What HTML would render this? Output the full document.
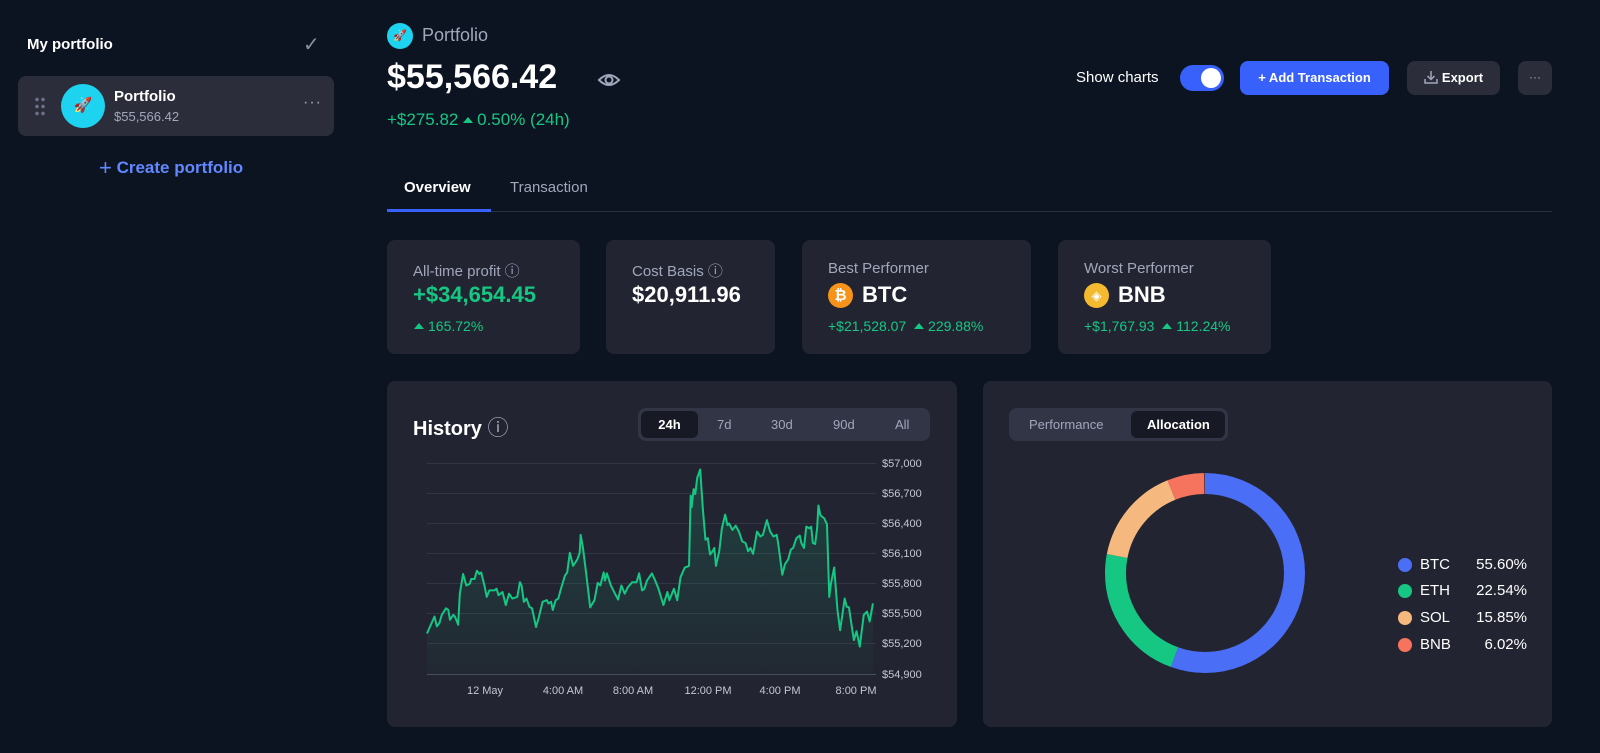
<!DOCTYPE html>
<html><head><meta charset="utf-8"><style>
*{margin:0;padding:0;box-sizing:border-box}
body{width:1600px;height:753px;background:#0d1421;font-family:"Liberation Sans",sans-serif;color:#fff;position:relative;overflow:hidden}
.a{position:absolute;white-space:nowrap}
.card{position:absolute;background:#222531;border-radius:8px}
.g{color:#16c784}.m{color:#a1a7bb}
.tri{display:inline-block;width:0;height:0;border-left:5px solid transparent;border-right:5px solid transparent;border-bottom:6px solid #16c784;margin-right:4px;vertical-align:2px}
.lg{position:absolute;left:1398px;width:129px;height:20px;font-size:15px;line-height:20px}
.lg i{position:absolute;left:0;top:3px;width:14px;height:14px;border-radius:50%}
.lg b{position:absolute;left:22px;font-weight:normal}
.lg span{position:absolute;right:0}
</style></head><body>
<div class="a" style="left:27px;top:36px;font-size:15px;font-weight:bold">My portfolio</div>
<div class="a" style="left:303px;top:32px;font-size:20px;color:#8a90a2">✓</div>
<div class="card" style="left:18px;top:76px;width:316px;height:60px;background:#2b2d3b"></div>
<div class="a" style="left:34px;top:96px;width:12px;height:20px;background:radial-gradient(circle,#6c7186 1.6px,transparent 2px) 0 0/6px 7px"></div>
<div class="a" style="left:61px;top:84px;width:44px;height:44px;border-radius:50%;background:#1ed3ef;text-align:center;line-height:44px;font-size:15px">🚀</div>
<div class="a" style="left:114px;top:88px;font-size:15px;font-weight:bold">Portfolio</div>
<div class="a m" style="left:114px;top:109px;font-size:13px">$55,566.42</div>
<div class="a m" style="left:303px;top:94px;font-size:16px;letter-spacing:1px">···</div>
<div class="a" style="left:99px;top:155px;font-size:17px;font-weight:bold;color:#6188ff"><span style="font-size:22px;font-weight:normal;vertical-align:-2px">+</span> Create portfolio</div>

<div class="a" style="left:387px;top:23px;width:26px;height:26px;border-radius:50%;background:#1ed3ef;text-align:center;line-height:26px;font-size:11px">🚀</div>
<div class="a m" style="left:422px;top:25px;font-size:18px">Portfolio</div>
<div class="a" style="left:387px;top:58px;font-size:34px;font-weight:bold">$55,566.42</div>
<svg class="a" style="left:597px;top:70px" width="24" height="20"><path d="M2 10 Q12 0 22 10 Q12 20 2 10Z" fill="none" stroke="#a1a7bb" stroke-width="2"/><circle cx="12" cy="10" r="3.5" fill="none" stroke="#a1a7bb" stroke-width="2"/></svg>
<div class="a g" style="left:387px;top:110px;font-size:17px">+$275.82 <span class="tri"></span>0.50% (24h)</div>

<div class="a" style="left:1076px;top:69px;font-size:15px">Show charts</div>
<div class="a" style="left:1180px;top:65px;width:44px;height:26px;border-radius:13px;background:#3861fb"><div style="position:absolute;right:3px;top:3px;width:20px;height:20px;border-radius:50%;background:#fff"></div></div>
<div class="a" style="left:1240px;top:61px;width:149px;height:34px;border-radius:8px;background:#3861fb;font-size:13px;font-weight:bold;text-align:center;line-height:34px">+ Add Transaction</div>
<div class="a" style="left:1407px;top:61px;width:93px;height:34px;border-radius:8px;background:#2b2d3b;font-size:13px;font-weight:bold;text-align:center;line-height:34px"><svg width="14" height="14" style="vertical-align:-2px;margin-right:4px"><path d="M7 1v8M3.5 6L7 9.5 10.5 6M1 9v4h12V9" fill="none" stroke="#a1a7bb" stroke-width="1.5"/></svg>Export</div>
<div class="a m" style="left:1518px;top:61px;width:34px;height:34px;border-radius:8px;background:#2b2d3b;font-size:12px;text-align:center;line-height:32px">···</div>

<div class="a" style="left:404px;top:179px;font-size:15px;font-weight:bold">Overview</div>
<div class="a m" style="left:510px;top:179px;font-size:15px">Transaction</div>
<div class="a" style="left:387px;top:211px;width:1165px;height:1px;background:#2a2f3e"></div>
<div class="a" style="left:387px;top:209px;width:104px;height:3px;background:#3861fb"></div>

<div class="card" style="left:387px;top:240px;width:193px;height:114px"></div>
<div class="a m" style="left:413px;top:260px;font-size:15px">All-time profit ⓘ</div>
<div class="a g" style="left:413px;top:282px;font-size:22px;font-weight:bold">+$34,654.45</div>
<div class="a g" style="left:414px;top:318px;font-size:14px"><span class="tri"></span>165.72%</div>
<div class="card" style="left:606px;top:240px;width:169px;height:114px"></div>
<div class="a m" style="left:632px;top:260px;font-size:15px">Cost Basis ⓘ</div>
<div class="a" style="left:632px;top:282px;font-size:22px;font-weight:bold">$20,911.96</div>
<div class="card" style="left:802px;top:240px;width:229px;height:114px"></div>
<div class="a m" style="left:828px;top:260px;font-size:15px">Best Performer</div>
<div class="a" style="left:828px;top:283px;width:25px;height:25px;border-radius:50%;background:#f7931a;font-size:15px;font-weight:bold;text-align:center;line-height:25px">₿</div>
<div class="a" style="left:862px;top:282px;font-size:22px;font-weight:bold">BTC</div>
<div class="a g" style="left:828px;top:318px;font-size:14px">+$21,528.07 &nbsp;<span class="tri"></span>229.88%</div>
<div class="card" style="left:1058px;top:240px;width:213px;height:114px"></div>
<div class="a m" style="left:1084px;top:260px;font-size:15px">Worst Performer</div>
<div class="a" style="left:1084px;top:283px;width:25px;height:25px;border-radius:50%;background:#f3ba2f;font-size:13px;text-align:center;line-height:25px;color:#fff">◈</div>
<div class="a" style="left:1118px;top:282px;font-size:22px;font-weight:bold">BNB</div>
<div class="a g" style="left:1084px;top:318px;font-size:14px">+$1,767.93 &nbsp;<span class="tri"></span>112.24%</div>

<div class="card" style="left:387px;top:381px;width:570px;height:346px"></div>
<div class="a" style="left:413px;top:412px;font-size:20px;font-weight:bold">History <span class="m" style="font-weight:normal;font-size:21px">ⓘ</span></div>
<div class="a" style="left:638px;top:408px;width:292px;height:33px;border-radius:8px;background:#323546"></div>
<div class="a" style="left:641px;top:411px;width:57px;height:27px;border-radius:6px;background:#171924"></div>
<div class="a" style="left:641px;top:417px;width:57px;text-align:center;font-size:13px;font-weight:bold">24h</div>
<div class="a m" style="left:717px;top:417px;font-size:13px">7d</div>
<div class="a m" style="left:771px;top:417px;font-size:13px">30d</div>
<div class="a m" style="left:833px;top:417px;font-size:13px">90d</div>
<div class="a m" style="left:895px;top:417px;font-size:13px">All</div>

<svg class="a" style="left:0;top:0" width="1600" height="753">
<defs><linearGradient id="fg" x1="0" y1="0" x2="0" y2="1"><stop offset="0" stop-color="#16c784" stop-opacity="0.18"/><stop offset="1" stop-color="#16c784" stop-opacity="0.02"/></linearGradient></defs>
<g stroke="#323546" stroke-width="1">
<line x1="427" x2="876" y1="463.5" y2="463.5"/><line x1="427" x2="876" y1="493.5" y2="493.5"/><line x1="427" x2="876" y1="523.5" y2="523.5"/><line x1="427" x2="876" y1="553.5" y2="553.5"/><line x1="427" x2="876" y1="583.5" y2="583.5"/><line x1="427" x2="876" y1="613.5" y2="613.5"/><line x1="427" x2="876" y1="643.5" y2="643.5"/></g>
<line x1="427" x2="876" y1="674.5" y2="674.5" stroke="#4a4f60"/>
<g font-size="11" fill="#c3c7d3" font-family="Liberation Sans,sans-serif">
<text x="882" y="467">$57,000</text><text x="882" y="497">$56,700</text><text x="882" y="527">$56,400</text><text x="882" y="557">$56,100</text><text x="882" y="587">$55,800</text><text x="882" y="617">$55,500</text><text x="882" y="647">$55,200</text><text x="882" y="678">$54,900</text>
<text x="485" y="694" text-anchor="middle">12 May</text><text x="563" y="694" text-anchor="middle">4:00 AM</text><text x="633" y="694" text-anchor="middle">8:00 AM</text><text x="708" y="694" text-anchor="middle">12:00 PM</text><text x="780" y="694" text-anchor="middle">4:00 PM</text><text x="856" y="694" text-anchor="middle">8:00 PM</text></g>
<g transform="translate(400.7,440.1) scale(0.3284,0.3267)">
<polygon fill="url(#fg)" points="80,716 80,592 103,540 110,570 118,560 125,535 138,515 145,520 150,550 160,535 165,540 175,565 180,470 190,410 200,445 210,440 215,425 225,425 232,400 240,410 245,405 255,445 262,480 270,460 285,460 292,455 298,475 310,465 320,505 330,470 340,485 355,480 363,435 368,445 375,495 383,485 392,510 400,515 412,572 420,545 432,495 445,490 450,500 458,495 463,520 472,490 480,485 488,455 500,415 507,405 515,345 525,385 538,365 545,345 548,290 555,330 565,410 577,512 590,490 600,437 608,445 618,405 622,430 628,408 640,445 650,465 662,488 672,445 682,470 692,450 705,435 718,435 726,408 735,460 742,455 750,430 765,408 775,430 785,455 800,505 812,465 818,490 832,455 842,490 852,420 865,390 878,385 883,170 886,205 892,150 897,165 903,115 912,90 920,210 928,305 935,300 942,350 950,340 955,330 960,385 970,340 978,270 988,228 995,260 1000,255 1010,275 1020,262 1030,280 1040,310 1050,315 1058,340 1065,330 1073,348 1085,280 1095,295 1103,290 1115,245 1125,280 1135,295 1145,290 1150,320 1162,412 1170,380 1180,365 1188,335 1195,330 1205,300 1215,292 1220,315 1228,330 1235,265 1245,270 1250,265 1255,315 1262,318 1268,270 1272,200 1278,230 1290,240 1298,258 1305,480 1310,440 1320,390 1330,520 1338,582 1352,485 1358,510 1365,512 1372,560 1380,612 1388,585 1398,632 1410,535 1420,525 1428,555 1438,500 1438,716"/>
<polyline fill="none" stroke="#16c784" stroke-width="2" vector-effect="non-scaling-stroke" stroke-linejoin="round" points="80,592 103,540 110,570 118,560 125,535 138,515 145,520 150,550 160,535 165,540 175,565 180,470 190,410 200,445 210,440 215,425 225,425 232,400 240,410 245,405 255,445 262,480 270,460 285,460 292,455 298,475 310,465 320,505 330,470 340,485 355,480 363,435 368,445 375,495 383,485 392,510 400,515 412,572 420,545 432,495 445,490 450,500 458,495 463,520 472,490 480,485 488,455 500,415 507,405 515,345 525,385 538,365 545,345 548,290 555,330 565,410 577,512 590,490 600,437 608,445 618,405 622,430 628,408 640,445 650,465 662,488 672,445 682,470 692,450 705,435 718,435 726,408 735,460 742,455 750,430 765,408 775,430 785,455 800,505 812,465 818,490 832,455 842,490 852,420 865,390 878,385 883,170 886,205 892,150 897,165 903,115 912,90 920,210 928,305 935,300 942,350 950,340 955,330 960,385 970,340 978,270 988,228 995,260 1000,255 1010,275 1020,262 1030,280 1040,310 1050,315 1058,340 1065,330 1073,348 1085,280 1095,295 1103,290 1115,245 1125,280 1135,295 1145,290 1150,320 1162,412 1170,380 1180,365 1188,335 1195,330 1205,300 1215,292 1220,315 1228,330 1235,265 1245,270 1250,265 1255,315 1262,318 1268,270 1272,200 1278,230 1290,240 1298,258 1305,480 1310,440 1320,390 1330,520 1338,582 1352,485 1358,510 1365,512 1372,560 1380,612 1388,585 1398,632 1410,535 1420,525 1428,555 1438,500"/>
</g>
</svg>

<div class="card" style="left:983px;top:381px;width:569px;height:346px"></div>
<div class="a" style="left:1009px;top:408px;width:219px;height:33px;border-radius:8px;background:#323546"></div>
<div class="a" style="left:1131px;top:411px;width:94px;height:27px;border-radius:6px;background:#171924"></div>
<div class="a m" style="left:1029px;top:417px;font-size:13px">Performance</div>
<div class="a" style="left:1147px;top:417px;font-size:13px;font-weight:bold">Allocation</div>
<svg class="a" style="left:1105px;top:473px" width="200" height="200">
<g transform="rotate(-90 100 100)" fill="none" stroke-width="21">
<circle cx="100" cy="100" r="89.5" stroke="#4a6ef5" pathLength="100" stroke-dasharray="55.6 100"/>
<circle cx="100" cy="100" r="89.5" stroke="#16c784" pathLength="100" stroke-dasharray="0 55.6 22.54 100"/>
<circle cx="100" cy="100" r="89.5" stroke="#f5b97f" pathLength="100" stroke-dasharray="0 78.14 15.85 100"/>
<circle cx="100" cy="100" r="89.5" stroke="#f6735d" pathLength="100" stroke-dasharray="0 93.99 6.01 100"/>
</g></svg>
<div class="lg" style="top:555px"><i style="background:#4a6ef5"></i><b>BTC</b><span>55.60%</span></div>
<div class="lg" style="top:581px"><i style="background:#16c784"></i><b>ETH</b><span>22.54%</span></div>
<div class="lg" style="top:608px"><i style="background:#f5b97f"></i><b>SOL</b><span>15.85%</span></div>
<div class="lg" style="top:635px"><i style="background:#f6735d"></i><b>BNB</b><span>6.02%</span></div>
</body></html>
